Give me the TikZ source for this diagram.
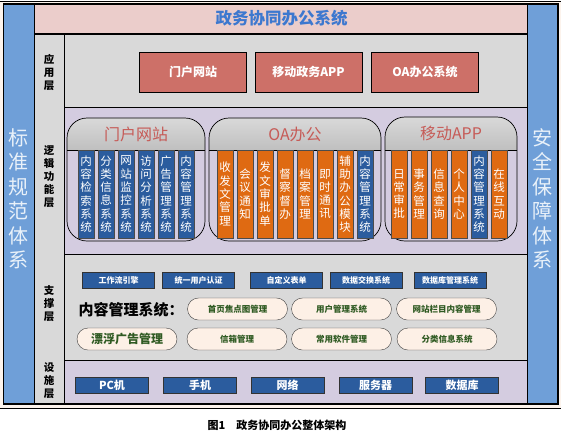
\documentclass[tikz,border=0pt]{standalone}
\usepackage{fontspec}
\newfontfamily\cjk{Noto Sans CJK SC}
\usetikzlibrary{positioning,calc}

\definecolor{sideblue}{HTML}{6F9FD8}
\definecolor{titlepink}{HTML}{EBCDCB}
\definecolor{layergray}{HTML}{D9D9D9}
\definecolor{layerlilac}{HTML}{D4CCE0}
\definecolor{appred}{HTML}{CD7068}
\definecolor{boxblue}{HTML}{2B5C9E}
\definecolor{colorange}{HTML}{DF6A12}
\definecolor{titleblue}{HTML}{3D78CF}
\definecolor{capred}{HTML}{C65B57}
\definecolor{pillfill}{HTML}{FDF0E6}
\definecolor{pillgreen}{HTML}{2F5A22}
\definecolor{papercream}{HTML}{FCF3EC}

\tikzset{
  sidebar/.style={fill=sideblue, draw=black, line width=1pt},
  sidetext/.style={text=white!85!sideblue, align=center, font=\cjk\fontsize{20}{24.5}\selectfont},
  layerlabel/.style={align=center, font=\cjk\bfseries\fontsize{10.5}{13}\selectfont},
  appbox/.style={draw=black, fill=appred, text=white, minimum width=107pt, minimum height=40pt,
    inner sep=0pt, font=\cjk\bfseries\fontsize{12}{14}\selectfont},
  vcol/.style={draw=black!70, text=white, minimum width=16.5pt, minimum height=88pt, inner sep=0pt,
    align=center, font=\cjk\fontsize{11.5}{13.3}\selectfont},
  bluecol/.style={vcol, fill=boxblue},
  orangecol/.style={vcol, fill=colorange},
  captitle/.style={text=capred, font=\cjk\fontsize{16}{18}\selectfont},
  groupframe/.style={rounded corners=20pt, line width=0.7pt},
  capshade/.style={top color=gray!30, middle color=white, bottom color=gray!50},
  supbox/.style={draw=black!80, fill=boxblue, text=white, minimum width=72pt, minimum height=16pt,
    inner sep=0pt, font=\cjk\bfseries\fontsize{8}{9}\selectfont},
  pill/.style={draw=black!75, fill=pillfill, text=pillgreen, rounded corners=11pt, minimum width=100pt,
    minimum height=22pt, inner sep=0pt, font=\cjk\bfseries\fontsize{8.5}{9}\selectfont},
  infrabox/.style={draw=black!80, fill=boxblue, text=white, minimum width=73pt, minimum height=16pt,
    inner sep=0pt, font=\cjk\bfseries\fontsize{11}{12}\selectfont},
}

\begin{document}
\begin{tikzpicture}[x=1pt, y=-1pt, every node/.style={font=\cjk}]
\useasboundingbox (0,0) rectangle (561,437);
% paper and rules
\fill[papercream] (0,1) rectangle (561,408);
\draw[line width=0.8pt] (0,1) -- (561,1);
\draw[line width=0.8pt] (0,408) -- (561,408);

% layer backgrounds
\fill[titlepink] (34,4) rectangle (527,34);
\fill[layergray] (34,34) rectangle (64,404);
\fill[layergray] (64,34) rectangle (527,107);
\fill[layerlilac] (64,107) rectangle (527,254);
\fill[layergray] (64,254) rectangle (527,360);
\fill[layerlilac] (64,360) rectangle (527,404);
\draw[line width=0.8pt] (64,107) -- (527,107);
\draw[line width=0.8pt] (64,254) -- (527,254);
\draw[line width=0.8pt] (64,360) -- (527,360);
\draw[line width=1.2pt] (34,34) -- (527,34);
\draw[line width=0.8pt] (64,34) -- (64,404);

% side bars
\draw[sidebar] (3.5,4) rectangle (34,404);
\draw[sidebar] (527,4) rectangle (558,404);
\draw[line width=1.3pt] (3.5,4) rectangle (558,404);
\node[sidetext] (stdtext) at (18.5,199) {标\\准\\规\\范\\体\\系};
\node[sidetext] (safetext) at (542.5,199) {安\\全\\保\\障\\体\\系};

\node[font=\cjk\bfseries\fontsize{16.5}{18}\selectfont, text=titleblue] (title) at (281.5,18.5) {政务协同办公系统};

% layer labels
\node[layerlabel] (applabel) at (49,72) {应\\用\\层};
\node[layerlabel] (logiclabel) at (49,177) {逻\\辑\\功\\能\\层};
\node[layerlabel] (suplabel) at (49,304) {支\\撑\\层};
\node[layerlabel] (infralabel) at (49,381) {设\\施\\层};

% application layer
\node[appbox] (portal) at (193,72) {门户网站};
\node[appbox] (mobile) at (308.5,72) {移动政务APP};
\node[appbox] (oasys) at (425,72) {OA办公系统};

% logic layer: group frames
\begin{scope}
  \clip[rounded corners=20pt] (67,118) rectangle (205,241);
  \shade[capshade] (67,118) rectangle (205,150);
\end{scope}
\draw[groupframe] (67,118) rectangle (205,241);
\draw (67,150) -- (205,150);
\begin{scope}
  \clip[rounded corners=20pt] (209,118) rectangle (381,241);
  \shade[capshade] (209,118) rectangle (381,150);
\end{scope}
\draw[groupframe] (209,118) rectangle (381,241);
\draw (209,150) -- (381,150);
\begin{scope}
  \clip[rounded corners=20pt] (385,117) rectangle (517,241);
  \shade[capshade] (385,117) rectangle (517,150);
\end{scope}
\draw[groupframe] (385,117) rectangle (517,241);
\draw (385,150) -- (517,150);

\node[captitle] (portalcap) at (136,134) {门户网站};
\node[captitle] (oacap) at (295,134) {OA办公};
\node[captitle] (appcap) at (451,133) {移动APP};

% portal columns
\node[bluecol] (portal1) at (86,194) {内\\容\\检\\索\\系\\统};
\node[bluecol] (portal2) at (106,194) {分\\类\\信\\息\\系\\统};
\node[bluecol] (portal3) at (126,194) {网\\站\\监\\控\\系\\统};
\node[bluecol] (portal4) at (146,194) {访\\问\\分\\析\\系\\统};
\node[bluecol] (portal5) at (166,194) {广\\告\\管\\理\\系\\统};
\node[bluecol] (portal6) at (186,194) {内\\容\\管\\理\\系\\统};

% oa columns
\node[orangecol] (oa1) at (225,194) {收\\发\\文\\管\\理};
\node[orangecol] (oa2) at (245,194) {会\\议\\通\\知};
\node[orangecol] (oa3) at (265,194) {发\\文\\审\\批\\单};
\node[orangecol] (oa4) at (285,194) {督\\察\\督\\办};
\node[orangecol] (oa5) at (305,194) {档\\案\\管\\理};
\node[orangecol] (oa6) at (325,194) {即\\时\\通\\讯};
\node[orangecol] (oa7) at (345,194) {辅\\助\\办\\公\\模\\块};
\node[bluecol] (oa8) at (365,194) {内\\容\\管\\理\\系\\统};

% app columns
\node[orangecol] (app1) at (399,194) {日\\常\\审\\批};
\node[orangecol] (app2) at (419,194) {事\\务\\管\\理};
\node[orangecol] (app3) at (439,194) {信\\息\\查\\询};
\node[orangecol] (app4) at (459,194) {个\\人\\中\\心};
\node[bluecol] (app5) at (479,194) {内\\容\\管\\理\\系\\统};
\node[orangecol] (app6) at (499,194) {在\\线\\互\\动};

% support layer
\node[supbox] (flow) at (118.5,280.5) {工作流引擎};
\node[supbox] (auth) at (198.5,280.5) {统一用户认证};
\node[supbox] (form) at (286.5,280.5) {自定义表单};
\node[supbox] (exch) at (366,280.5) {数据交换系统};
\node[supbox] (dbms) at (450,280.5) {数据库管理系统};

\node[font=\cjk\bfseries\fontsize{15}{16}\selectfont] (cmslabel) at (131,310) {内容管理系统：};
\node[pill] (focus) at (237.5,309) {首页焦点图管理};
\node[pill] (users) at (341.5,309) {用户管理系统};
\node[pill] (column) at (446.5,309) {网站栏目内容管理};
\node[pill, font=\cjk\bfseries\fontsize{12}{13}\selectfont] (float) at (127,339) {漂浮广告管理};
\node[pill] (mail) at (237,339) {信箱管理};
\node[pill] (soft) at (341.5,339) {常用软件管理};
\node[pill] (classinfo) at (447,339) {分类信息系统};

% infrastructure layer
\node[infrabox] (pc) at (112,385) {PC机};
\node[infrabox] (phone) at (200,385) {手机};
\node[infrabox] (net) at (287.5,385) {网络};
\node[infrabox] (server) at (375.5,385) {服务器};
\node[infrabox] (db) at (462,385) {数据库};

\node[font=\cjk\bfseries\fontsize{11}{12}\selectfont] (caption) at (277,425) {图1\quad 政务协同办公整体架构};
\end{tikzpicture}
\end{document}
